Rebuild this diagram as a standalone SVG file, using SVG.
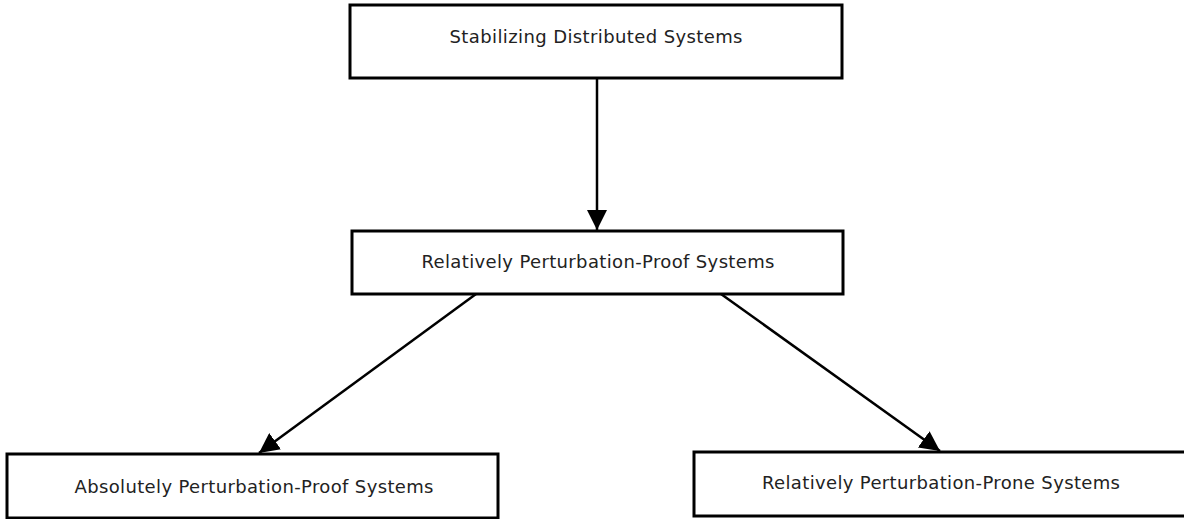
<svg xmlns="http://www.w3.org/2000/svg" width="1184" height="519" viewBox="0 0 1184 519">
<style>
.box{fill:#fff;stroke:#000;stroke-width:3}
.lbl{font-family:"DejaVu Sans",sans-serif;font-size:18px;fill:#222;text-anchor:middle}
.edge{stroke:#000;stroke-width:2.5;fill:none}
</style>
<defs>
<marker id="arr" viewBox="0 0 10 10" refX="10" refY="5" markerWidth="8" markerHeight="8" markerUnits="strokeWidth" orient="auto">
<path d="M0,0 L10,5 L0,10 Z" fill="#000"/>
</marker>
</defs>
<rect width="1184" height="519" fill="#fff"/>
<g id="connectors">
<path class="edge" d="M597,78 L597,230" marker-end="url(#arr)"/>
<path class="edge" d="M476,294 L259,453" marker-end="url(#arr)"/>
<path class="edge" d="M721,294 L940,451" marker-end="url(#arr)"/>
</g>
<g id="n1">
<rect class="box" x="350" y="5" width="492" height="73"/>
<text class="lbl" x="596" y="43" textLength="293" lengthAdjust="spacing">Stabilizing Distributed Systems</text>
</g>
<g id="n2">
<rect class="box" x="352" y="231" width="491" height="63"/>
<text class="lbl" x="598" y="268" textLength="353" lengthAdjust="spacing">Relatively Perturbation-Proof Systems</text>
</g>
<g id="n3">
<rect class="box" x="7" y="454" width="491" height="64"/>
<text class="lbl" x="254" y="493" textLength="359" lengthAdjust="spacing">Absolutely Perturbation-Proof Systems</text>
</g>
<g id="n4">
<rect class="box" x="694" y="452" width="492" height="64"/>
<text class="lbl" x="941" y="489" textLength="358" lengthAdjust="spacing">Relatively Perturbation-Prone Systems</text>
</g>
</svg>
